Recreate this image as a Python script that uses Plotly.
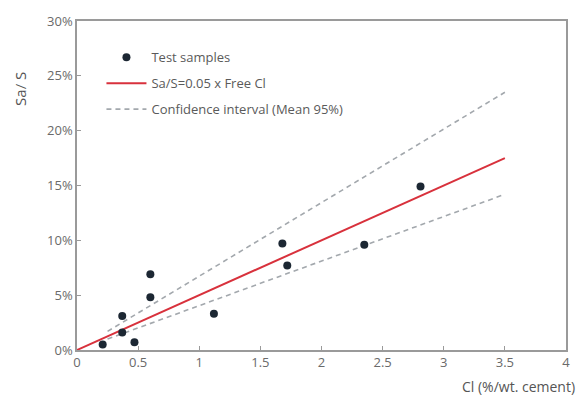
import plotly.graph_objects as go

# test samples: free chloride (% wt. cement) vs Sa/S (%)
cl_samples = [0.21, 0.37, 0.37, 0.47, 0.60, 0.60, 1.12, 1.68, 1.72, 2.35, 2.81]
sa_samples = [0.5, 3.1, 1.6, 0.7, 6.9, 4.8, 3.3, 9.7, 7.7, 9.6, 14.9]

# fitted line Sa/S = 0.05 x Free Cl
fit_x = [0, 3.5]
fit_y = [0, 17.5]

# confidence interval bounds (mean 95%)
ci_x = [0.25, 3.5]
ci_upper = [1.7, 23.5]
ci_lower = [1.0, 14.2]

x_ticks = [0, 0.5, 1, 1.5, 2, 2.5, 3, 3.5, 4]
x_labels = ["0", "0.5", "1", "1.5", "2", "2.5", "3", "3.5", "4"]
y_ticks = [0, 5, 10, 15, 20, 25, 30]
y_labels = ["0%", "5%", "10%", "15%", "20%", "25%", "30%"]

font_family = "Open Sans"
text_grey = "#6a6a6a"
axis_grey = "#9a9a9a"
ci_grey = "#a3a8ad"

fig = go.Figure()

# lines first so the sample dots sit on top; legendrank keeps legend order
fig.add_trace(go.Scatter(
    x=ci_x, y=ci_upper, mode="lines",
    line=dict(color=ci_grey, width=1.6, dash="5px,4px"),
    name="Confidence interval (Mean 95%)", legendgroup="c", legendrank=3
))
fig.add_trace(go.Scatter(
    x=ci_x, y=ci_lower, mode="lines",
    line=dict(color=ci_grey, width=1.6, dash="5px,4px"),
    showlegend=False, legendgroup="c"
))
fig.add_trace(go.Scatter(
    x=fit_x, y=fit_y, mode="lines",
    line=dict(color="#d8313c", width=2),
    name="Sa/S=0.05 x Free Cl", legendgroup="b", legendrank=2
))
fig.add_trace(go.Scatter(
    x=cl_samples, y=sa_samples, mode="markers",
    marker=dict(color="#1c2733", size=8),
    name="Test samples", legendgroup="a", legendrank=1
))

fig.update_layout(
    width=582, height=403,
    margin=dict(l=77, r=12, t=15, b=53),
    plot_bgcolor="white", paper_bgcolor="white",
    font=dict(family=font_family, color=text_grey, size=12),
    showlegend=True,
    legend=dict(
        x=0.05, y=0.935, xanchor="left", yanchor="top",
        bgcolor="rgba(0,0,0,0)", font=dict(size=13, color="#5a5a5a"),
        tracegroupgap=6, itemwidth=40, traceorder="grouped"
    ),
    xaxis=dict(
        range=[0, 4], tickvals=x_ticks, ticktext=x_labels,
        showgrid=False, zeroline=False,
        showline=True, linecolor=axis_grey, linewidth=1.5, mirror=True,
        ticks="inside", ticklen=4, tickcolor=axis_grey,
        tickfont=dict(size=13, color=text_grey)
    ),
    yaxis=dict(
        range=[0, 30], tickvals=y_ticks, ticktext=y_labels,
        showgrid=False, zeroline=False,
        showline=True, linecolor=axis_grey, linewidth=1.5, mirror=True,
        ticks="inside", ticklen=4, tickcolor=axis_grey,
        tickfont=dict(size=13, color=text_grey)
    ),
    annotations=[
        dict(text="Sa/ S", xref="paper", yref="paper", x=-0.14, y=0.85,
             textangle=-90, showarrow=False,
             font=dict(size=15, color="#555555")),
        dict(text="Cl (%/wt. cement)", xref="paper", yref="paper", x=1.022, y=-0.145,
             xanchor="right", showarrow=False,
             font=dict(size=14, color="#555555")),
    ]
)

fig.write_html("out.html", config={"displayModeBar": False},
               post_script="document.body.style.margin='0';")
